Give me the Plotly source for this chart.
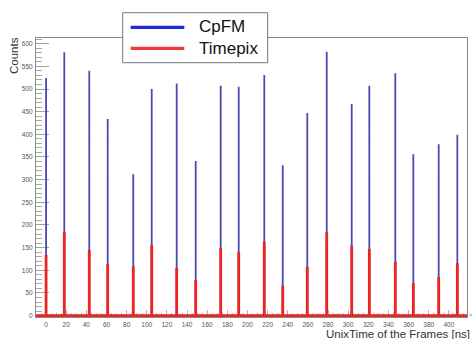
import plotly.graph_objects as go

# Frame arrival times (ns) and per-frame counts for the two detectors
frame_time_ns = [0.0, 18.1, 42.9, 61.2, 86.6, 104.9, 129.7, 148.6, 173.4, 191.3,
                 216.7, 235.0, 259.4, 278.7, 303.5, 321.0, 346.8, 364.7, 389.9, 408.4]
cpfm_counts = [524, 581, 540, 434, 312, 500, 512, 341, 507, 505,
               531, 332, 447, 582, 467, 507, 535, 356, 378, 399]
timepix_counts = [134, 185, 145, 114, 109, 156, 105, 79, 149, 140,
                  163, 66, 108, 184, 154, 147, 119, 72, 85, 116]

x_range = [-10, 418]
y_range = [-3, 612.5]

W, H = 473, 339
M = dict(l=36, r=6, t=38, b=22)


def spikes(xs, ys, x_lo=None, x_hi=None):
    """Histogram-style path: baseline at zero with a vertical spike per bin."""
    px, py = [], []
    if x_lo is not None:
        px.append(x_lo)
        py.append(0)
    for x, y in zip(xs, ys):
        px += [x, x, x]
        py += [0, y, 0]
    if x_hi is not None:
        px.append(x_hi)
        py.append(0)
    return px, py


fig = go.Figure()

bx, by = spikes(frame_time_ns, cpfm_counts)
fig.add_trace(go.Scatter(x=bx, y=by, mode="lines", name="CpFM",
                         line=dict(color="#4a4ab4", width=1.8),
                         showlegend=False, hoverinfo="skip"))

rx, ry = spikes(frame_time_ns, timepix_counts, x_range[0], x_range[1])
fig.add_trace(go.Scatter(x=rx, y=ry, mode="lines", name="Timepix",
                         line=dict(color="#ee2424", width=2.8),
                         showlegend=False, hoverinfo="skip"))

plot_w = W - M["l"] - M["r"]
plot_h = H - M["t"] - M["b"]


def px_x(p):
    return (p - M["l"]) / plot_w


def px_y(p):
    return (H - M["b"] - p) / plot_h


# Legend box drawn as shapes + text
shapes = [
    dict(type="rect", xref="paper", yref="paper",
         x0=px_x(122.7), x1=px_x(267.7), y0=px_y(62.7), y1=px_y(12.7),
         fillcolor="white", line=dict(color="#777777", width=1), layer="above"),
    dict(type="line", xref="paper", yref="paper",
         x0=px_x(130.7), x1=px_x(184.3), y0=px_y(27.3), y1=px_y(27.3),
         line=dict(color="#1e28dc", width=3.2), layer="above"),
    dict(type="line", xref="paper", yref="paper",
         x0=px_x(130.7), x1=px_x(184.3), y0=px_y(48.3), y1=px_y(48.3),
         line=dict(color="#f03a3a", width=3.2), layer="above"),
]

font_family = "Liberation Sans, Arial, sans-serif"
annotations = [
    dict(text="CpFM", xref="paper", yref="paper", x=px_x(196.5), y=px_y(27.0),
         xanchor="left", yanchor="middle", showarrow=False,
         font=dict(family=font_family, size=17, color="#111111")),
    dict(text="Timepix", xref="paper", yref="paper", x=px_x(196.5), y=px_y(48.0),
         xanchor="left", yanchor="middle", showarrow=False,
         font=dict(family=font_family, size=17, color="#111111")),
    dict(text="Counts", xref="paper", yref="paper", x=px_x(14), y=px_y(56),
         xanchor="center", yanchor="middle", textangle=-90, showarrow=False,
         font=dict(family=font_family, size=11.5, color="#333333")),
    dict(text="UnixTime of the Frames [ns]", xref="paper", yref="paper",
         x=px_x(472), y=px_y(334), xanchor="right", yanchor="middle",
         showarrow=False,
         font=dict(family=font_family, size=11.5, color="#333333")),
    dict(text="×", xref="paper", yref="paper", x=px_x(471), y=px_y(315),
         xanchor="center", yanchor="middle", showarrow=False,
         font=dict(family=font_family, size=6, color="#888888")),
]

fig.update_layout(
    width=W, height=H, margin=M,
    paper_bgcolor="white", plot_bgcolor="white",
    shapes=shapes, annotations=annotations,
    showlegend=False,
)

fig.update_xaxes(
    range=x_range, showgrid=False, zeroline=False, layer="below traces",
    showline=True, mirror=True, linecolor="#8a8a8a", linewidth=1,
    ticks="inside", ticklen=7, tickcolor="#b0b0b0", tickwidth=1,
    tick0=0, dtick=20,
    minor=dict(ticks="inside", ticklen=4, tickcolor="#b8b8b8", dtick=5, tick0=0),
    tickfont=dict(family=font_family, size=6.5, color="#555555"),
    ticklabelstandoff=1,
)
fig.update_yaxes(
    range=y_range, showgrid=False, zeroline=False, layer="below traces",
    showline=True, mirror=True, linecolor="#8a8a8a", linewidth=1,
    ticks="inside", ticklen=13, tickcolor="#a0a0a0", tickwidth=1,
    tick0=0, dtick=50,
    minor=dict(ticks="inside", ticklen=6, tickcolor="#a8a8a8", dtick=10, tick0=0),
    tickfont=dict(family=font_family, size=6.5, color="#555555"),
    ticklabelstandoff=1,
)

fig.write_html("out.html")
